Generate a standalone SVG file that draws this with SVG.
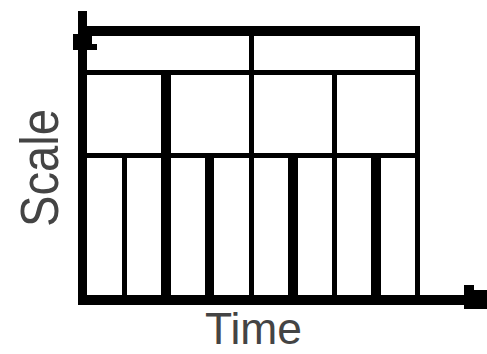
<svg xmlns="http://www.w3.org/2000/svg" width="487" height="354" viewBox="0 0 487 354">
<style>
.k{fill:#000}
.lbl{font-family:"Liberation Sans",Arial,sans-serif;fill:#444}
</style>
<rect width="487" height="354" fill="#fff"/>
<g id="grid">
<rect class="k" x="87" y="26" width="333" height="10"/>
<rect class="k" x="415" y="36" width="5" height="259"/>
<rect class="k" x="87" y="70" width="328" height="5"/>
<rect class="k" x="87" y="153" width="328" height="5"/>
<rect class="k" x="249" y="36" width="5" height="259"/>
<rect class="k" x="161" y="75" width="10" height="220"/>
<rect class="k" x="332" y="75" width="5" height="220"/>
<rect class="k" x="122" y="158" width="5" height="137"/>
<rect class="k" x="205" y="158" width="9" height="137"/>
<rect class="k" x="288" y="158" width="10" height="137"/>
<rect class="k" x="371" y="158" width="10" height="137"/>
</g>
<g id="axes">
<rect class="k" x="78" y="11" width="9" height="294"/>
<polygon class="k" points="73,34 92,34 92,44 97,44 97,50 87,50 87,55 78,55 78,50 73,50"/>
<rect class="k" x="78" y="295" width="386" height="10"/>
<polygon class="k" points="464,285 474,285 474,290 487,290 487,309 464,309"/>
</g>
<text class="lbl" x="205" y="344" font-size="44" textLength="97" lengthAdjust="spacingAndGlyphs">Time</text>
<text class="lbl" transform="translate(58,227) rotate(-90)" x="0" y="0" font-size="53" textLength="118" lengthAdjust="spacingAndGlyphs">Scale</text>
</svg>
